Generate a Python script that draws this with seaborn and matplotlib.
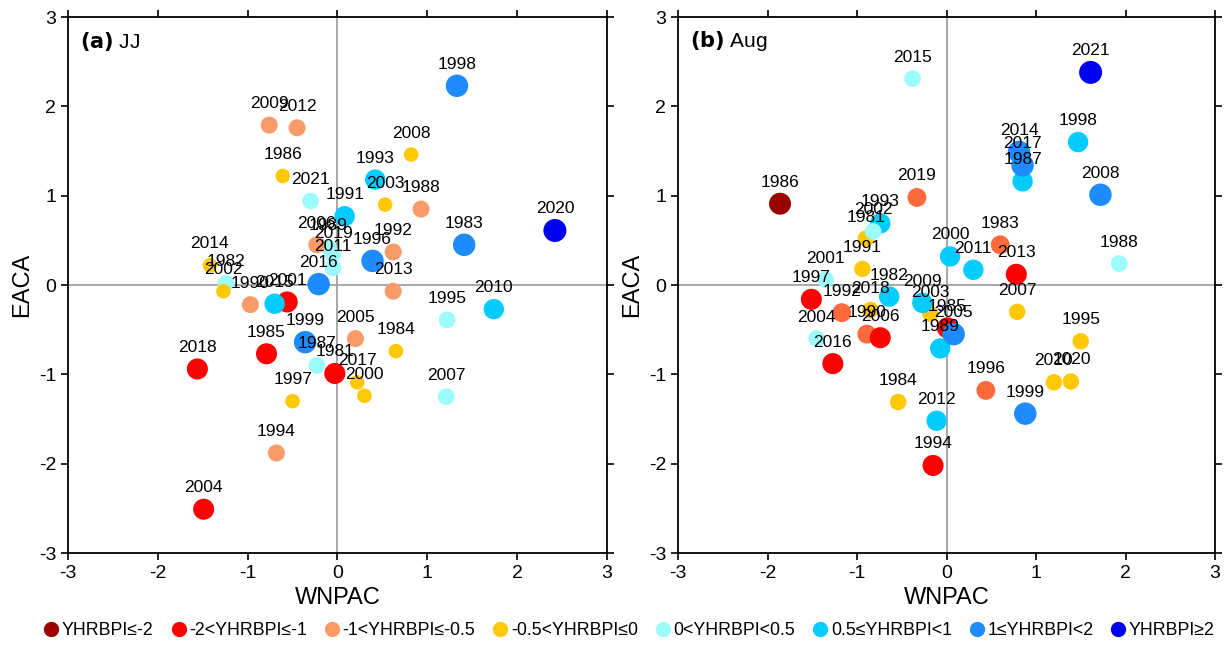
import matplotlib
matplotlib.use("Agg")
import matplotlib.pyplot as plt
import seaborn as sns
import pandas as pd
from matplotlib.lines import Line2D

years = list(range(1981, 2022))

# category codes: 0 <=-2, 1 (-2,-1], 2 (-1,-0.5], 3 (-0.5,0], 4 (0,0.5), 5 [0.5,1), 6 [1,2), 7 >=2
cat_labels = ["YHRBPI≤-2", "-2<YHRBPI≤-1", "-1<YHRBPI≤-0.5", "-0.5<YHRBPI≤0",
              "0<YHRBPI<0.5", "0.5≤YHRBPI<1", "1≤YHRBPI<2", "YHRBPI≥2"]

# Panel (a) JJ
a_x = [-0.03, -1.24, 1.41, 0.65, -0.79, -0.61, -0.23, 0.93, -0.10, -0.97,
       0.08, 0.62, 0.42, -0.68, 1.22, 0.39, -0.50, 1.33, -0.36, 0.30,
       -0.56, -1.27, 0.53, -1.49, 0.20, -0.23, 1.21, 0.82, -0.76, 1.74,
       -0.05, -0.45, 0.62, -1.42, -0.70, -0.21, 0.22, -1.56, -0.05, 2.42, -0.30]
a_y = [-0.99, 0.02, 0.45, -0.74, -0.77, 1.22, -0.90, 0.85, 0.42, -0.22,
       0.77, 0.37, 1.18, -1.88, -0.39, 0.27, -1.30, 2.23, -0.64, -1.24,
       -0.19, -0.07, 0.90, -2.51, -0.60, 0.45, -1.25, 1.46, 1.79, -0.27,
       0.19, 1.76, -0.07, 0.22, -0.21, 0.01, -1.09, -0.94, 0.34, 0.61, 0.94]
a_cat = [1, 4, 6, 3, 1, 3, 4, 2, 4, 2,
         5, 2, 5, 2, 4, 6, 3, 6, 6, 3,
         1, 3, 3, 1, 2, 2, 4, 3, 2, 5,
         4, 2, 2, 3, 5, 6, 3, 1, 4, 7, 4]

# Panel (b) Aug
b_x = [-0.90, -0.64, 0.60, -0.54, 0.01, -1.86, 0.85, 1.93, -0.07, -0.89,
       -0.94, -1.17, -0.74, -0.15, 1.50, 0.44, -1.51, 1.47, 0.88, 0.04,
       -1.35, -0.82, -0.18, -1.45, 0.08, -0.74, 0.79, 1.72, -0.27, 1.20,
       0.30, -0.11, 0.78, 0.81, -0.38, -1.27, 0.85, -0.85, -0.33, 1.39, 1.61]
b_y = [0.52, -0.13, 0.45, -1.31, -0.48, 0.91, 1.16, 0.24, -0.71, -0.55,
       0.18, -0.31, 0.69, -2.02, -0.63, -1.18, -0.16, 1.60, -1.44, 0.32,
       0.06, 0.60, -0.32, -0.60, -0.55, -0.59, -0.30, 1.01, -0.20, -1.09,
       0.17, -1.52, 0.12, 1.49, 2.31, -0.88, 1.34, -0.28, 0.98, -1.08, 2.38]
b_cat = [3, 5, 2, 3, 1, 0, 5, 4, 5, 2,
         3, 2, 5, 1, 3, 2, 1, 5, 6, 5,
         4, 4, 3, 4, 6, 1, 3, 6, 5, 3,
         5, 5, 1, 6, 4, 1, 6, 3, 2, 3, 7]

ticks = [-3, -2, -1, 0, 1, 2, 3]

colors_a = ["#990000", "#FF0000", "#F99B69", "#FFC800", "#9CFBFB", "#00CCFF", "#1E8CFF", "#0000F0"]
colors_b = ["#990000", "#FF0000", "#FF6A3D", "#FFC800", "#9CFBFB", "#00CCFF", "#1E8CFF", "#0000F0"]
legend_colors = ["#990000", "#FF0000", "#FF9966", "#FFC800", "#9CFBFB", "#00CCFF", "#1E8CFF", "#0000F0"]
sizes_a = [250, 230, 150, 110, 144, 215, 262, 274]
sizes_b = [250, 230, 185, 140, 144, 215, 262, 274]

sns.set_theme(style="white")
plt.rcParams["font.family"] = ["Liberation Sans", "DejaVu Sans"]
plt.rcParams["axes.unicode_minus"] = False
plt.rcParams["text.color"] = "black"
plt.rcParams["axes.labelcolor"] = "black"

fig = plt.figure(figsize=(12.26, 6.5), dpi=100)
ax_a = fig.add_axes([68 / 1226, 1 - 553 / 650, (607 - 68) / 1226, (553 - 17) / 650])
ax_b = fig.add_axes([678 / 1226, 1 - 553 / 650, (1215 - 678) / 1226, (553 - 17) / 650])

panels = [
    (ax_a, a_x, a_y, a_cat, colors_a, sizes_a, r"$\bf{(a)}$ JJ"),
    (ax_b, b_x, b_y, b_cat, colors_b, sizes_b, r"$\bf{(b)}$ Aug"),
]

for ax, xs, ys, cats, cols, szs, title in panels:
    df = pd.DataFrame({"WNPAC": xs, "EACA": ys, "cat": cats, "year": years})
    ax.axhline(0, color="#A0A0A0", lw=1.3, zorder=1)
    ax.axvline(0, color="#A0A0A0", lw=1.3, zorder=1)
    sns.scatterplot(data=df, x="WNPAC", y="EACA", hue="cat", size="cat",
                    palette={i: c for i, c in enumerate(cols)},
                    sizes={i: s for i, s in enumerate(szs)},
                    linewidth=0, legend=False, ax=ax, zorder=3)
    for x, y, yr in zip(xs, ys, years):
        ax.annotate(str(yr), (x, y), xytext=(0, 15.5), textcoords="offset points",
                    ha="center", va="center", fontsize=12.5, color="black", zorder=4)
    ax.set_xlim(-3, 3)
    ax.set_ylim(-3, 3)
    ax.set_xticks(ticks)
    ax.set_yticks(ticks)
    ax.set_xticklabels([str(t) for t in ticks])
    ax.set_yticklabels([str(t) for t in ticks])
    ax.tick_params(axis="both", which="both", direction="out", length=5, width=1.2,
                   labelsize=14, colors="black", top=True, right=True,
                   bottom=True, left=True, labeltop=False, labelright=False)
    for sp in ax.spines.values():
        sp.set_color("black")
        sp.set_linewidth(1.3)
    ax.set_xlabel("WNPAC", fontsize=17, labelpad=4)
    ax.set_ylabel("EACA", fontsize=17, labelpad=4)
    ax.text(0.022, 0.955, title, transform=ax.transAxes, fontsize=15,
            ha="left", va="center", color="black")

handles = [Line2D([0], [0], marker="o", linestyle="", markersize=11,
                  markerfacecolor=c, markeredgewidth=0) for c in legend_colors]
leg = fig.legend(handles, cat_labels, loc="lower center", ncol=8, frameon=False,
                 fontsize=12.8, handletextpad=0.0, columnspacing=0.8, handlelength=1.2,
                 bbox_to_anchor=(0.512, -0.008))
for t in leg.get_texts():
    t.set_color("black")

fig.savefig("out.png", dpi=100)
